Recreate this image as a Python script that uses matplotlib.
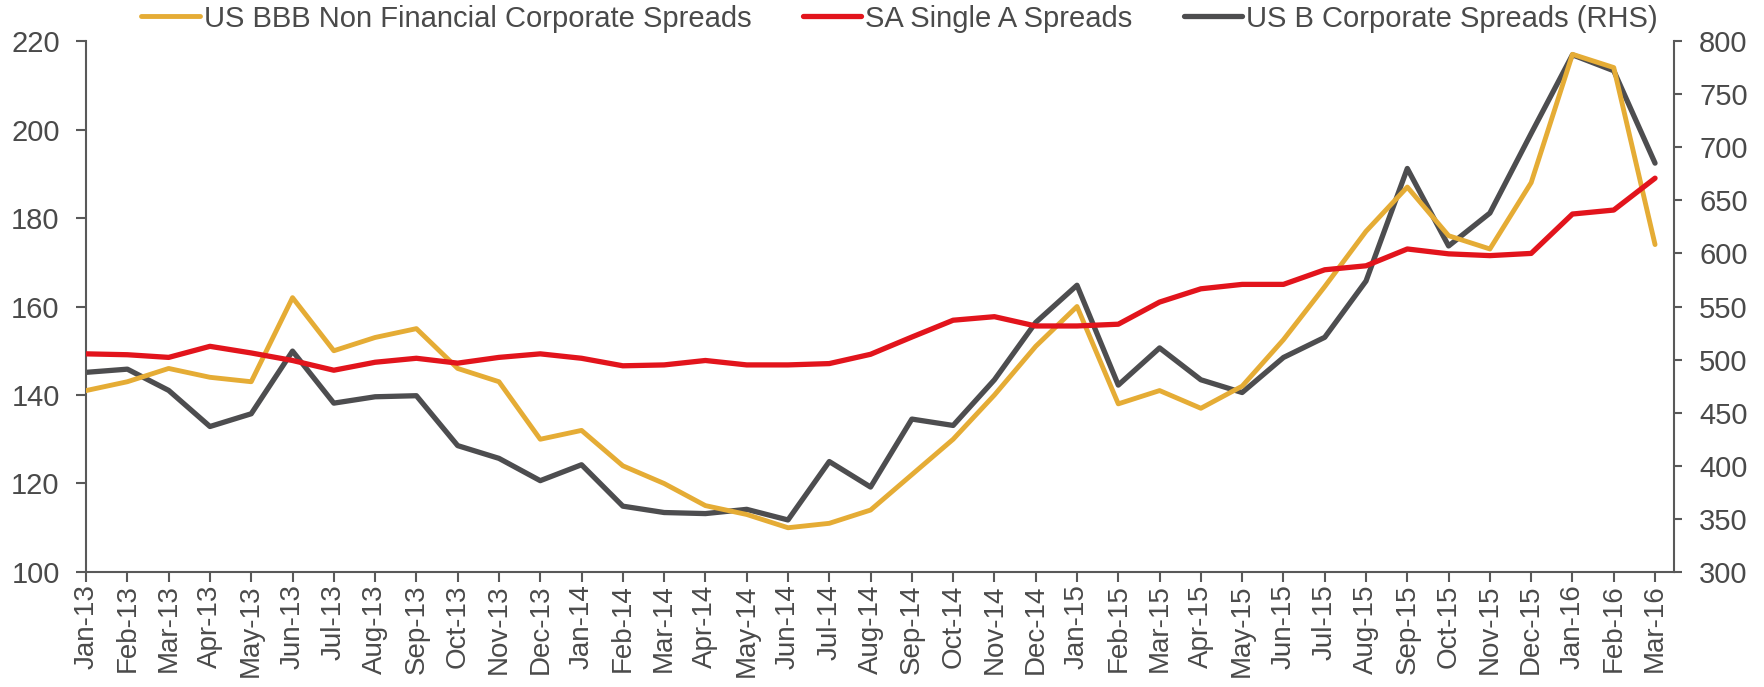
import matplotlib
matplotlib.use("Agg")
import matplotlib.pyplot as plt
import numpy as np

plt.rcParams['font.family'] = ['Liberation Sans', 'DejaVu Sans']

# 月份标签
months = ['Jan-13', 'Feb-13', 'Mar-13', 'Apr-13', 'May-13', 'Jun-13', 'Jul-13', 'Aug-13', 'Sep-13',
          'Oct-13', 'Nov-13', 'Dec-13', 'Jan-14', 'Feb-14', 'Mar-14', 'Apr-14', 'May-14', 'Jun-14',
          'Jul-14', 'Aug-14', 'Sep-14', 'Oct-14', 'Nov-14', 'Dec-14', 'Jan-15', 'Feb-15', 'Mar-15',
          'Apr-15', 'May-15', 'Jun-15', 'Jul-15', 'Aug-15', 'Sep-15', 'Oct-15', 'Nov-15', 'Dec-15',
          'Jan-16', 'Feb-16', 'Mar-16']

# 左轴数据
us_bbb = [141, 143, 146, 144, 143, 162, 150, 153, 155, 146, 143, 130, 132, 124, 120, 115, 113, 110,
          111, 114, 122, 130, 140, 151, 160, 138, 141, 137, 142, 152.5, 164.5, 177, 187, 176, 173, 188,
          217, 214, 174]
sa_single_a = [149.3, 149.1, 148.5, 151, 149.5, 147.8, 145.6, 147.4, 148.3, 147.2, 148.5, 149.3, 148.3,
               146.6, 146.8, 147.8, 146.8, 146.8, 147.1, 149.2, 153.1, 156.9, 157.7, 155.6, 155.6, 156,
               161, 164, 165, 165, 168.3, 169.2, 173, 171.9, 171.5, 172, 180.9, 181.8, 189]

# 右轴数据
us_b = [488, 491, 471, 437, 449, 508, 459, 465, 466, 419, 407, 386, 401, 362, 356, 355, 359, 349,
        404, 380, 444, 438, 481, 535, 570, 476, 511, 481, 469, 502, 521, 574, 680, 607, 638, 713,
        787, 772, 685]

gold = '#E5AC35'
red = '#E2141C'
grey = '#4D4D4F'
axis_color = '#595959'
text_color = '#4A4A4A'

fig = plt.figure(figsize=(17.64, 6.87), dpi=100)
ax = fig.add_axes([0.0488, 0.1674, 0.9002, 0.7729])
ax2 = ax.twinx()

x = np.arange(len(months))
style = dict(solid_capstyle='round', solid_joinstyle='round')
l1, = ax.plot(x, us_bbb, color=gold, linewidth=3.5, zorder=3, **style)
l2, = ax.plot(x, sa_single_a, color=red, linewidth=3.8, zorder=4, **style)
l3, = ax2.plot(x, us_b, color=grey, linewidth=3.8, **style)

ax.set_zorder(ax2.get_zorder() + 1)
ax.patch.set_visible(False)

ax.set_xlim(0, 38.46)
ax.set_ylim(100, 220)
ax2.set_ylim(300, 800)
ax.set_yticks(np.arange(100, 221, 20))
ax2.set_yticks(np.arange(300, 801, 50))
ax.set_xticks(x)
ax.set_xticklabels(months, rotation=90)

for a in (ax, ax2):
    for side in a.spines:
        a.spines[side].set_color(axis_color)
        a.spines[side].set_linewidth(1.5)
    a.spines['top'].set_visible(False)
    a.tick_params(colors=axis_color, labelcolor=text_color, labelsize=21, width=1.5)
ax.spines['right'].set_visible(False)
ax2.spines['left'].set_visible(False)
ax2.spines['bottom'].set_visible(False)
ax.tick_params(axis='x', length=7, pad=2, labelsize=20)
ax.tick_params(axis='y', length=7, pad=12)
ax2.tick_params(axis='y', length=6, pad=12)

fig.legend([l1, l2, l3],
           ['US BBB Non Financial Corporate Spreads', 'SA Single A Spreads',
            'US B Corporate Spreads (RHS)'],
           loc='center', bbox_to_anchor=(0.51, 0.973), ncol=3, frameon=False,
           fontsize=21, handlelength=2.0, handletextpad=0.15, columnspacing=1.75,
           labelcolor=text_color, borderaxespad=0)

fig.savefig('out.png', dpi=100)
